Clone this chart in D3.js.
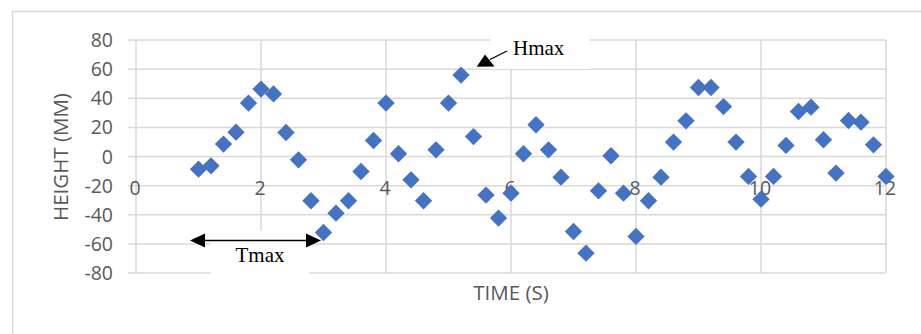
<!DOCTYPE html>
<html>
<head>
<meta charset="utf-8">
<script src="https://cdn.jsdelivr.net/npm/d3@7"></script>
<style>
  html, body { margin: 0; padding: 0; background: #fff; }
  svg { display: block; }
</style>
</head>
<body>
<svg id="chart" width="921" height="334"></svg>
<script>
// ---- data ----
const times = [1.0, 1.2, 1.4, 1.6, 1.8, 2.0, 2.2, 2.4, 2.6, 2.8,
               3.0, 3.2, 3.4, 3.6, 3.8, 4.0, 4.2, 4.4, 4.6, 4.8,
               5.0, 5.2, 5.4, 5.6, 5.8, 6.0, 6.2, 6.4, 6.6, 6.8,
               7.0, 7.2, 7.4, 7.6, 7.8, 8.0, 8.2, 8.4, 8.6, 8.8,
               9.0, 9.2, 9.4, 9.6, 9.8, 10.0, 10.2, 10.4, 10.6, 10.8,
               11.0, 11.2, 11.4, 11.6, 11.8, 12.0];
const heights = [-8.7, -6.4, 8.5, 16.7, 36.7, 46.3, 43, 16.5, -2.3, -30.4,
                 -52.2, -38.9, -30.4, -10.3, 11, 36.7, 1.9, -16, -30.4, 4.6,
                 36.7, 55.9, 13.7, -26.5, -42.3, -25.2, 1.9, 21.8, 4.6, -14.2,
                 -51.5, -66.4, -23.6, 0.5, -25.2, -54.9, -30.4, -14.2, 9.9, 24.5,
                 47.4, 47.4, 34.3, 9.9, -13.7, -29.3, -13.7, 7.6, 30.9, 33.9,
                 11.5, -11.4, 24.7, 23.6, 8.0, -13.7];
const xTicks = [0, 2, 4, 6, 8, 10, 12];
const yTicks = [-80, -60, -40, -20, 0, 20, 40, 60, 80];
const xTitle = "TIME (S)";
const yTitle = "HEIGHT (MM)";
const hLabel = "Hmax";
const tLabel = "Tmax";

// ---- layout ----
const svg = d3.select("#chart");
const plot = { left: 136, right: 886, top: 40, bottom: 273 };
const x = d3.scaleLinear().domain([0, 12]).range([plot.left, plot.right]);
const y = d3.scaleLinear().domain([-80, 80]).range([plot.bottom, plot.top]);
const grid = "#d9d9d9";
const txt = "#595959";
const sans = "'Open Sans', 'Noto Sans', sans-serif";
const serif = "'Liberation Serif', 'DejaVu Serif', serif";

// outer chart border (right/bottom fall outside the picture)
svg.append("path")
  .attr("d", "M12.5,340 L12.5,11.5 L930,11.5")
  .attr("fill", "none").attr("stroke", grid).attr("stroke-width", 1.5);

// gridlines
const g = svg.append("g");
g.selectAll("line.h").data(yTicks).join("line")
  .attr("x1", plot.left - 8).attr("x2", plot.right)
  .attr("y1", d => y(d)).attr("y2", d => y(d))
  .attr("stroke", grid).attr("stroke-width", 1.5);
g.selectAll("line.v").data(xTicks).join("line")
  .attr("x1", d => x(d)).attr("x2", d => x(d))
  .attr("y1", plot.top).attr("y2", plot.bottom)
  .attr("stroke", grid).attr("stroke-width", 1.5);

// y tick labels
svg.append("g").selectAll("text").data(yTicks).join("text")
  .attr("x", 113).attr("y", d => y(d))
  .attr("dy", "0.36em")
  .attr("text-anchor", "end")
  .attr("font-family", sans).attr("font-size", 19.5).attr("fill", txt)
  .text(d => d);

// x tick labels
svg.append("g").selectAll("text").data(xTicks).join("text")
  .attr("x", d => x(d) - 1).attr("y", 195)
  .attr("text-anchor", "middle")
  .attr("font-family", sans).attr("font-size", 19.5).attr("fill", txt)
  .text(d => d);

// axis titles
svg.append("text")
  .attr("x", 511).attr("y", 300)
  .attr("text-anchor", "middle")
  .attr("font-family", sans).attr("font-size", 20.5).attr("fill", txt)
  .text(xTitle);
svg.append("text")
  .attr("transform", "translate(68,157) rotate(-90)")
  .attr("text-anchor", "middle")
  .attr("font-family", sans).attr("font-size", 20.5).attr("fill", txt)
  .text(yTitle);

// annotation text boxes (white, covering gridlines)
svg.append("rect").attr("x", 490.5).attr("y", 28).attr("width", 99).attr("height", 41).attr("fill", "#fff");
svg.append("rect").attr("x", 210.5).attr("y", 231).attr("width", 99).attr("height", 55).attr("fill", "#fff");

// points
const pts = times.map((t, i) => ({ t, h: heights[i] }));
svg.append("g").selectAll("path").data(pts).join("path")
  .attr("d", d3.symbol().type(d3.symbolSquare).size(150))
  .attr("transform", d => `translate(${x(d.t)},${y(d.h)}) rotate(45)`)
  .attr("fill", "#4472C4");

// Hmax annotation
svg.append("text")
  .attr("x", 513).attr("y", 55)
  .attr("font-family", serif).attr("font-size", 21).attr("fill", "#000")
  .text(hLabel);
svg.append("line")
  .attr("x1", 507).attr("y1", 51).attr("x2", 490).attr("y2", 59.5)
  .attr("stroke", "#000").attr("stroke-width", 1.3);
svg.append("path")
  .attr("d", "M476.7,66.7 L485,54.5 L494.5,66.5 Z")
  .attr("fill", "#000");

// Tmax annotation
svg.append("text")
  .attr("x", 260).attr("y", 262)
  .attr("text-anchor", "middle")
  .attr("font-family", serif).attr("font-size", 21).attr("fill", "#000")
  .text(tLabel);
svg.append("line")
  .attr("x1", 200).attr("y1", 240.5).attr("x2", 311).attr("y2", 240.5)
  .attr("stroke", "#000").attr("stroke-width", 1.3);
svg.append("path").attr("d", "M190,240.5 L205,233.5 L205,247.5 Z").attr("fill", "#000");
svg.append("path").attr("d", "M321,240.5 L306,233.5 L306,247.5 Z").attr("fill", "#000");
</script>
</body>
</html>
